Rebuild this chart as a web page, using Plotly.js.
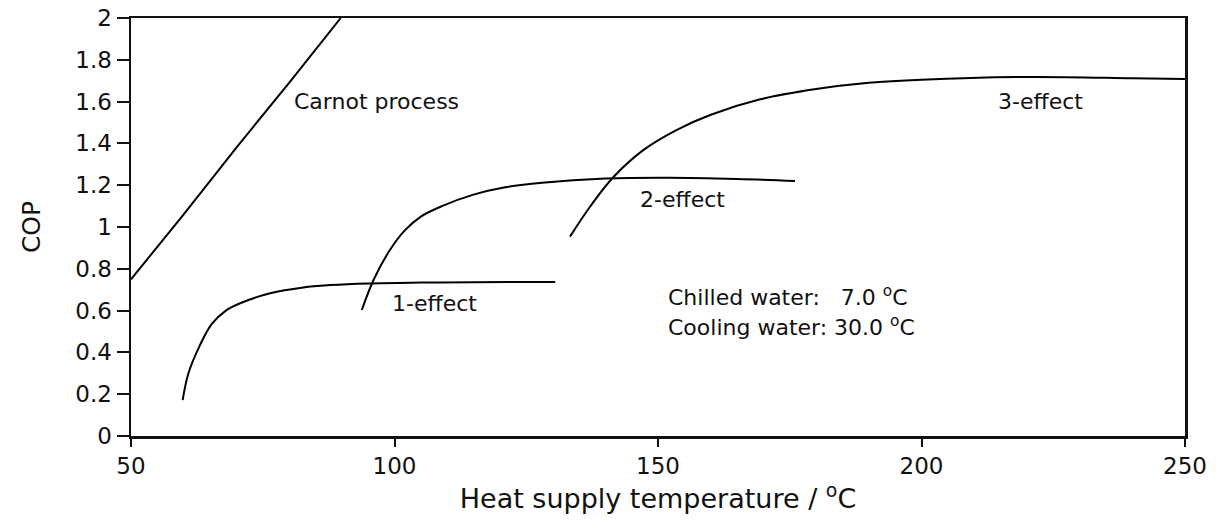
<!DOCTYPE html>
<html>
<head>
<meta charset="utf-8">
<script src="https://cdn.plot.ly/plotly-3.0.1.min.js"></script>
<style>html,body{margin:0;padding:0;background:#fff;}#chart{width:1223px;height:523px;}</style>
</head>
<body>
<div id="chart"></div>
<script>
// Carnot process
const carnotX = [50, 60, 70, 80, 89.8];
const carnotY = [0.75, 1.06, 1.38, 1.69, 2.0];
// 1-effect
const oneX = [59.8, 60.9, 63, 65.3, 68, 70.7, 76.4, 82.7, 87.8, 95, 105, 115, 130.5];
const oneY = [0.172, 0.30, 0.43, 0.535, 0.60, 0.635, 0.683, 0.711, 0.722, 0.73, 0.734, 0.736, 0.737];
// 2-effect
const twoX = [93.8, 96, 99, 102, 105, 109, 115, 121, 128, 140, 152, 165, 176];
const twoY = [0.603, 0.745, 0.885, 0.985, 1.05, 1.10, 1.155, 1.19, 1.212, 1.232, 1.236, 1.23, 1.22];
// 3-effect
const threeX = [133.3, 137.1, 141.5, 147.2, 153.5, 159.9, 169.4, 180, 190, 200, 220, 240, 250];
const threeY = [0.954, 1.097, 1.238, 1.368, 1.464, 1.536, 1.611, 1.66, 1.69, 1.705, 1.718, 1.712, 1.708];

const lineStyle = {color: '#000', width: 2, shape: 'spline', smoothing: 1};
const traces = [
  {x: carnotX, y: carnotY, name: 'Carnot process', line: {color: '#000', width: 2}},
  {x: oneX, y: oneY, name: '1-effect'},
  {x: twoX, y: twoY, name: '2-effect'},
  {x: threeX, y: threeY, name: '3-effect'}
].map(t => Object.assign({type: 'scatter', mode: 'lines', line: lineStyle, hoverinfo: 'skip'}, t));

const font = {family: 'DejaVu Sans, Liberation Sans, Arial, sans-serif', color: '#111'};
const ann = (x, y, text) => ({x, y, text, xref: 'x', yref: 'y', showarrow: false, xanchor: 'left', yanchor: 'middle', font: Object.assign({size: 22}, font)});

const layout = {
  width: 1223, height: 523,
  margin: {l: 131, r: 38, t: 18, b: 87},
  paper_bgcolor: '#fff', plot_bgcolor: '#fff',
  showlegend: false,
  font: font,
  xaxis: {
    range: [50, 250], tickvals: [50, 100, 150, 200, 250],
    ticks: 'outside', ticklen: 8, tickwidth: 2, tickcolor: '#111',
    showline: true, linewidth: 2.5, linecolor: '#111', mirror: true,
    showgrid: false, zeroline: false,
    tickfont: Object.assign({size: 23}, font),
    title: {text: 'Heat supply temperature / <sup>o</sup>C', font: Object.assign({size: 27}, font), standoff: 8}
  },
  yaxis: {
    range: [0, 2],
    tickvals: [0, 0.2, 0.4, 0.6, 0.8, 1, 1.2, 1.4, 1.6, 1.8, 2],
    ticktext: ['0', '0.2', '0.4', '0.6', '0.8', '1', '1.2', '1.4', '1.6', '1.8', '2'],
    ticks: 'outside', ticklen: 12, tickwidth: 2, tickcolor: '#111',
    showline: true, linewidth: 2.5, linecolor: '#111', mirror: true,
    showgrid: false, zeroline: false,
    tickfont: Object.assign({size: 23}, font),
    title: {text: 'COP', font: Object.assign({size: 25}, font), standoff: 28}
  },
  annotations: [
    ann(80.5, 1.6, 'Carnot process'),
    ann(214.1, 1.6, '3-effect'),
    ann(146.2, 1.13, '2-effect'),
    ann(99.1, 0.636, '1-effect'),
    ann(151.5, 0.67, 'Chilled water:   7.0 <sup>o</sup>C'),
    ann(151.5, 0.526, 'Cooling water: 30.0 <sup>o</sup>C')
  ]
};

Plotly.newPlot('chart', traces, layout, {displayModeBar: false, staticPlot: true});
</script>
</body>
</html>
